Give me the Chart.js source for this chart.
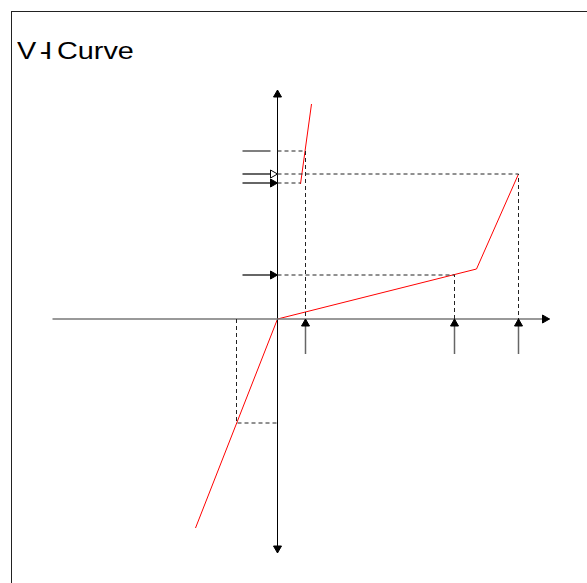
<!DOCTYPE html>
<html lang="en">
<head>
<script src="https://cdn.jsdelivr.net/npm/chart.js@4.4.0/dist/chart.umd.min.js"></script>
<style>
  html, body { margin: 0; padding: 0; overflow: hidden; background: #fff; }
  #wrap { position: relative; width: 587px; height: 583px; }
  #frame { position: absolute; left: 11px; top: 11px; width: 700px; height: 700px; border: 1px solid #222; }
  #title {
    position: absolute; left: 17px; top: 37px;
    font-family: "Liberation Sans", Arial, sans-serif; font-size: 24px; line-height: 28px;
    color: #000; white-space: nowrap; word-spacing: -3px;
    transform-origin: 0 0; transform: scaleX(1.2);
  }
  #title .d { margin-left: 3px; margin-right: -4px; }
  canvas { position: absolute; left: 0; top: 0; }
</style>
</head>
<body>
<div id="wrap">
  <div id="frame"></div>
  <div id="title">V<span class="d">-</span>I Curve</div>
  <canvas id="vi" width="587" height="583"></canvas>
</div>
<script>
    // characteristic curve (x = current, y = voltage), arbitrary units
    const curveI = [-8.2, 0, 19.9, 24.1];
    const curveV = [-20.9, 0, 5.0, 14.5];
    const upperI = [2.3, 3.4];
    const upperV = [13.5, 21.5];

    // reference levels marked on the axes
    const levelV = [16.8, 14.5, 13.6, 4.4];   // arrows left of the V axis
    const markI = [2.8, 17.7, 24.1];           // arrows below the I axis
    const negI = -4.1, negV = -10.4;

    // axis extents
    const axisI = [-22.5, 27.2];
    const axisV = [-23.4, 22.9];
    const arrowLen = 3.5;

    const pts = (xs, ys) => xs.map((x, i) => ({ x: x, y: ys[i] }));

    const dashed = {
        borderColor: '#222', borderWidth: 1, borderDash: [4, 3],
        showLine: true, pointRadius: 0, fill: false
    };
    const guide = (xs, ys) => Object.assign({ data: pts(xs, ys) }, dashed);

    const solid = (xs, ys, color, head, width) => ({
        data: pts(xs, ys), borderColor: color, borderWidth: width || 1,
        showLine: true, pointRadius: 0, fill: false, head: head
    });

    const datasets = [
        // dashed projections
        guide([0, markI[0], markI[0]], [levelV[0], levelV[0], 0]),
        guide([0, curveI[3], curveI[3]], [levelV[1], levelV[1], 0]),
        guide([0, upperI[0]], [levelV[2], levelV[2]]),
        guide([0, markI[1], markI[1]], [levelV[3], levelV[3], 0]),
        guide([negI, negI, 0], [0, negV, negV]),

        // arrows pointing at the V axis
        solid([-arrowLen, -0.7], [levelV[0], levelV[0]], '#555', null, 1.5),
        solid([-arrowLen, 0], [levelV[1], levelV[1]], '#333', 'open', 1.5),
        solid([-arrowLen, 0], [levelV[2], levelV[2]], '#333', 'fill', 1.5),
        solid([-arrowLen, 0], [levelV[3], levelV[3]], '#333', 'fill', 1.5),

        // arrows pointing at the I axis
        ...markI.map(m => solid([m, m], [-arrowLen, 0], '#666', 'fill', 1.5)),

        // axes
        solid([axisI[0], axisI[1]], [0, 0], '#777', 'fill', 1.5),
        solid([0, 0], [0, axisV[1]], '#000', 'fill', 1),
        solid([0, 0], [0, axisV[0]], '#000', 'fill', 1),

        // V-I curve
        solid(curveI, curveV, '#ff0000', null, 1),
        solid(upperI, upperV, '#ff0000', null, 1)
    ];

    const arrowHeads = {
        id: 'arrowHeads',
        afterDatasetsDraw(chart) {
            const ctx = chart.ctx;
            chart.data.datasets.forEach((ds, i) => {
                if (!ds.head) return;
                const p = chart.getDatasetMeta(i).data;
                const a = p[p.length - 2], b = p[p.length - 1];
                const ang = Math.atan2(b.y - a.y, b.x - a.x);
                const len = 7, half = 4;
                ctx.save();
                ctx.translate(b.x, b.y);
                ctx.rotate(ang);
                ctx.beginPath();
                ctx.moveTo(0, 0);
                ctx.lineTo(-len, -half);
                ctx.lineTo(-len, half);
                ctx.closePath();
                ctx.fillStyle = ds.head === 'open' ? '#fff' : '#000';
                ctx.strokeStyle = '#000';
                ctx.lineWidth = 1;
                ctx.fill();
                ctx.stroke();
                ctx.restore();
            });
        }
    };

    const myChart = new Chart(document.getElementById('vi'), {
        type: 'scatter',
        data: { datasets: datasets },
        options: {
            responsive: false,
            animation: false,
            layout: { padding: 0 },
            plugins: { legend: { display: false }, tooltip: { enabled: false } },
            scales: {
                x: { type: 'linear', display: false, min: -27.75, max: 30.95 },
                y: { type: 'linear', display: false, min: -26.4, max: 31.9 }
            }
        },
        plugins: [arrowHeads]
    });
</script>
</body>
</html>
